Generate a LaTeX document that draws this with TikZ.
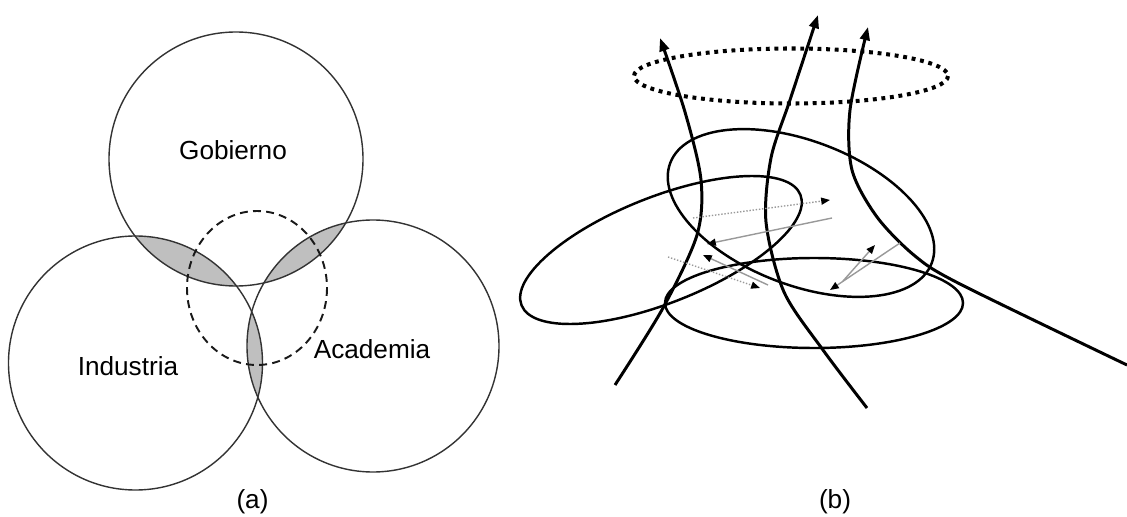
\documentclass[tikz,border=0pt]{standalone}
\usepackage{fontspec}
\setmainfont{Liberation Sans}
\usetikzlibrary{arrows.meta}
\pgfdeclarelayer{filllayer}
\pgfdeclarelayer{edgelayer}
\pgfsetlayers{filllayer,edgelayer,main}
\tikzstyle{ring}=[draw=black!80, line width=0.8pt]
\tikzstyle{lens}=[fill=black!25]
\tikzstyle{hole}=[draw=black!90, line width=1.1pt, dash pattern=on 4.5pt off 3pt]
\tikzstyle{orbit}=[draw=black, line width=1.4pt]
\tikzstyle{strand}=[draw=black, line width=1.7pt, -{Triangle[length=7.5pt,width=5.5pt]}]
\tikzstyle{halo}=[draw=black, line width=2.3pt, dash pattern=on 2.2pt off 2.7pt]
\tikzstyle{drift}=[draw=black!40, line width=0.8pt, -{Triangle[length=5pt,width=4pt,color=black]}]
\tikzstyle{driftdot}=[drift, densely dotted]
\tikzstyle{tag}=[font=\fontsize{14.9}{18}\selectfont, anchor=base, inner sep=0pt]

\begin{document}
\begin{tikzpicture}[x=0.02cm, y=-0.02cm]
	\useasboundingbox (0,0) rectangle (1127,517);
	% (a)
	\coordinate (g) at (236,159);
	\coordinate (i) at (135.5,363);
	\coordinate (k) at (373,346);
	\coordinate (h) at (257,288);
	\begin{pgfonlayer}{filllayer}
		\begin{scope}
			\clip (g) circle [radius=127];
			\fill [style=lens] (i) circle [radius=127];
			\fill [style=lens] (k) circle [radius=126];
		\end{scope}
		\begin{scope}
			\clip (i) circle [radius=127];
			\fill [style=lens] (k) circle [radius=126];
		\end{scope}
	\end{pgfonlayer}
	\draw [style=ring] (g) circle [radius=127];
	\draw [style=ring] (i) circle [radius=127];
	\draw [style=ring] (k) circle [radius=126];
	\draw [style=hole] (h) ellipse [x radius=70, y radius=77];
	\node [style=tag] (1) at (233,160) {Gobierno};
	\node [style=tag] (2) at (128,375) {Industria};
	\node [style=tag] (3) at (372,358) {Academia};
	\node [style=tag] (4) at (252.5,508) {(a)};
	% (b)
	\coordinate (t) at (791,76);
	\coordinate (u) at (801,213);
	\coordinate (v) at (661,250);
	\coordinate (w) at (814,303);
	\draw [style=halo] (t) ellipse [x radius=157, y radius=27.5];
	\draw [style=orbit, rotate around={-21:(u)}] (u) ellipse [x radius=140, y radius=72];
	\draw [style=orbit, rotate around={21.6:(v)}] (v) ellipse [x radius=150, y radius=53];
	\draw [style=orbit] (w) ellipse [x radius=149, y radius=45];
	\draw [style=strand] plot [smooth] coordinates {(615,385) (663,308) (697,235) (701,180) (685,112) (660,38)};
	\draw [style=strand] plot [smooth] coordinates {(867,408) (823,350) (784,292) (766,222) (771,158) (790,100) (818,15)};
	\draw [style=strand] plot [smooth] coordinates {(1127,365) (960,284) (915,256) (877,217) (852,170) (850,110) (868,27)};
	\coordinate (p1) at (693,218);
	\coordinate (q1) at (830,200);
	\coordinate (p2) at (832,218);
	\coordinate (q2) at (707,244);
	\coordinate (p3) at (668,257);
	\coordinate (q3) at (760,288);
	\coordinate (p4) at (768,285);
	\coordinate (q4) at (703,255);
	\coordinate (p5) at (843,281);
	\coordinate (q5) at (875,245);
	\coordinate (p6) at (900,243);
	\coordinate (q6) at (830,290);
	\draw [style=driftdot] (p1) to (q1);
	\draw [style=drift] (p2) to (q2);
	\draw [style=driftdot] (p3) to (q3);
	\draw [style=drift] (p4) to (q4);
	\draw [style=drift] (p5) to (q5);
	\draw [style=drift] (p6) to (q6);
	\node [style=tag] (5) at (835,508) {(b)};
\end{tikzpicture}
\end{document}
